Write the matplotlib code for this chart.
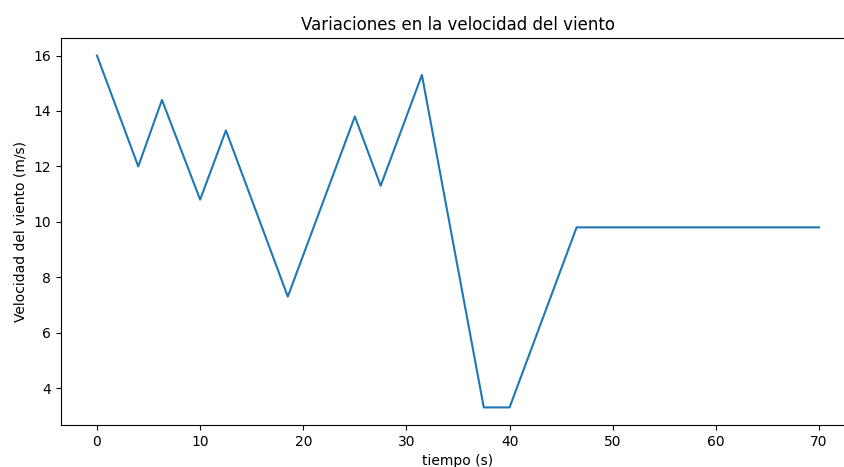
import matplotlib
matplotlib.use("Agg")
import matplotlib.pyplot as plt

# Wind speed samples
tiempo = [0, 4, 6.3, 10, 12.5, 18.5, 25, 27.5, 31.5, 37.5, 40, 46.5, 70]
velocidad = [16.0, 12.0, 14.4, 10.8, 13.3, 7.3, 13.8, 11.3, 15.3, 3.3, 3.3, 9.8, 9.8]

fig = plt.figure(figsize=(8.45, 4.67), dpi=100)
ax = fig.add_axes([60.9 / 845, 1 - 425 / 467, 794.2 / 845, (425 - 38) / 467])

ax.plot(tiempo, velocidad, color="#1f77b4", linewidth=1.5)
ax.set_title("Variaciones en la velocidad del viento", fontsize=12)
ax.set_xlabel("tiempo (s)", fontsize=10)
ax.set_ylabel("Velocidad del viento (m/s)", fontsize=10)
ax.set_xticks(range(0, 71, 10))
ax.set_yticks(range(4, 17, 2))
ax.set_xlim(-3.5, 73.5)
# the frame runs off the right edge of the figure
ax.spines["right"].set_visible(False)

fig.savefig("out.png", dpi=100)
